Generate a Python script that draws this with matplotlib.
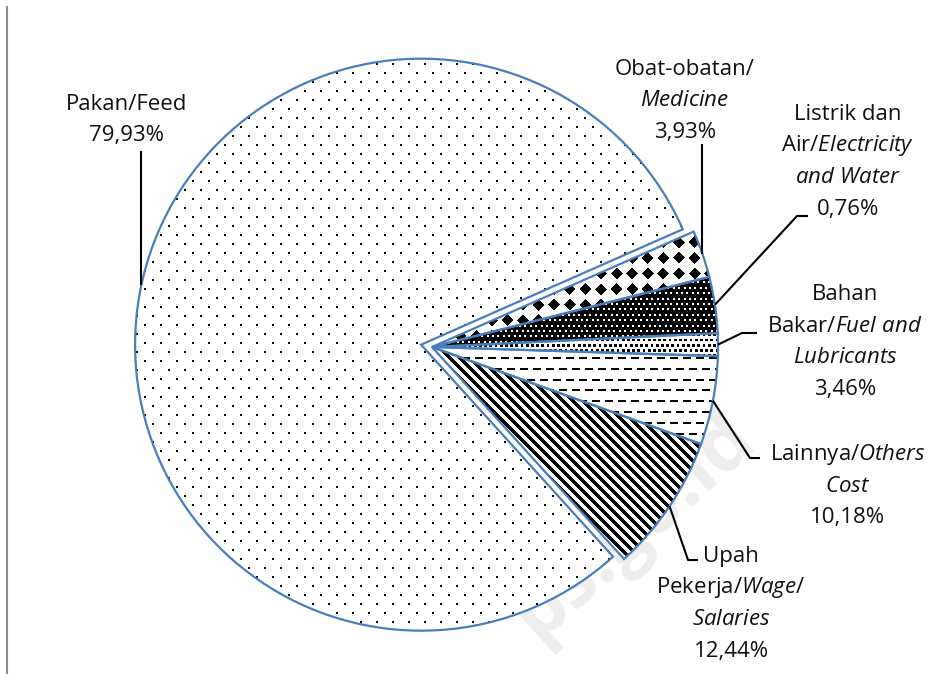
import numpy as np
import matplotlib
matplotlib.use("Agg")
import matplotlib.pyplot as plt
from matplotlib.lines import Line2D

plt.rcParams['font.family'] = ['Open Sans', 'DejaVu Sans']
plt.rcParams['mathtext.fontset'] = 'custom'
plt.rcParams['mathtext.rm'] = 'Open Sans'
plt.rcParams['mathtext.it'] = 'Open Sans:italic'

# slices in counter-clockwise order, starting with Feed
names = ['Feed', 'Wage', 'Others', 'Fuel', 'Electricity', 'Medicine']
shares = [80.1, 7.78, 5.0, 1.28, 3.17, 2.67]      # wedge sizes as drawn
pct_labels = ['79,93%', '12,44%', '10,18%', '3,46%', '0,76%', '3,93%']
label_lines = [
    ['Pakan/Feed'],
    ['Upah', r'Pekerja/$\mathit{Wage/}$', r'$\mathit{Salaries}$'],
    [r'Lainnya/$\mathit{Others}$', r'$\mathit{Cost}$'],
    ['Bahan', r'Bakar/$\mathit{Fuel\ and}$', r'$\mathit{Lubricants}$'],
    ['Listrik dan', r'Air/$\mathit{Electricity}$', r'$\mathit{and\ Water}$'],
    ['Obat-obatan/', r'$\mathit{Medicine}$'],
]

W, H = 944, 674
CX, CY, R = 432, 347, 286      # pie centre / radius in pixels


def px(x, y):
    return (x - CX) / R, (CY - y) / R


yy, xx = np.mgrid[0:H, 0:W].astype(float)


def tex_feed():
    a = ((xx % 16) < 2) & ((yy % 18) < 2)
    b = (((xx + 8) % 16) < 2) & (((yy + 9) % 18) < 2)
    return np.where(a | b, 0.0, 1.0)


def tex_diamond():
    dx = (xx % 15.6) - 7.8
    dy = (yy % 15.6) - 7.8
    return np.where(np.abs(dx) + np.abs(dy) <= 6.0, 0.0, 1.0)


def tex_dark_dots():
    row = np.floor(yy / 5.4)
    off = (row % 2) * 2.7
    w = (((xx + off) % 5.4) < 2) & ((yy % 5.4) < 2)
    return np.where(w, 1.0, 0.0)


def tex_small_squares():
    row = np.floor(yy / 5.2)
    off = (row % 2) * 2.6
    b = (((xx + off) % 5.2) < 2.8) & ((yy % 5.2) < 2.8)
    return np.where(b, 0.0, 1.0)


def tex_dashes():
    row = np.floor(yy / 10.8)
    off = (row % 2) * 6.5
    b = ((yy % 10.8) < 2) & (((xx + off) % 13) < 8)
    return np.where(b, 0.0, 1.0)


def tex_stripes():
    return np.where(((xx - yy) % 10) < 5, 0.0, 1.0)


textures = [tex_feed(), tex_stripes(), tex_dashes(), tex_small_squares(),
            tex_dark_dots(), tex_diamond()]

fig = plt.figure(figsize=(W / 100, H / 100), dpi=100)
ax = fig.add_axes([0, 0, 1, 1])

wedges, _ = ax.pie(shares, startangle=23.8, counterclock=True,
                   explode=[0.039, 0, 0, 0, 0, 0], radius=1,
                   wedgeprops=dict(facecolor='none', edgecolor='#4a7ebb',
                                   linewidth=1.6, zorder=3))

x0, y1 = px(0, 0)
x1, y0 = px(W, H)
for w, tex in zip(wedges, textures):
    im = ax.imshow(tex, cmap='gray', vmin=0, vmax=1, extent=(x0, x1, y0, y1),
                   origin='upper', interpolation='nearest', aspect='auto', zorder=2)
    im.set_clip_path(w)

ax.set_xlim(x0, x1)
ax.set_ylim(y0, y1)
ax.set_aspect('auto')
ax.axis('off')


def arc_pt(w):
    th = np.deg2rad((w.theta1 + w.theta2) / 2)
    return w.center[0] + w.r * np.cos(th), w.center[1] + w.r * np.sin(th)


# leader elbows (pixel coords), label block centre x and first baseline
elbows = [
    [('v', 151)],
    [(688, 560), (698, 560)],
    [(750, 458), (760, 458)],
    [(742, 333), (757, 333)],
    [(797, 216), (808, 216)],
    [('v', 144)],
]
label_pos = [(127, 110), (731, 562), (848, 460), (845, 300), (848, 120), (685, 75)]
line_gap = 31.5

for w, elb, pos, lines, pct in zip(wedges, elbows, label_pos, label_lines, pct_labels):
    sx, sy = arc_pt(w)
    xs, ys = [sx], [sy]
    for e in elb:
        if e[0] == 'v':
            xs.append(sx)
            ys.append(px(0, e[1])[1])
        else:
            ex, ey = px(*e)
            xs.append(ex)
            ys.append(ey)
    ax.plot(xs, ys, color='black', lw=1.5, zorder=4, solid_capstyle='butt')
    for i, t in enumerate(lines + [pct]):
        tx, ty = px(pos[0], pos[1] + i * line_gap)
        ax.text(tx, ty, t, ha='center', va='baseline', fontsize=16, color='#111111', zorder=5)

# faint watermark
wx, wy = px(634, 526)
ax.text(wx, wy, 'ps.go.id', rotation=42, fontsize=56, fontweight='bold',
        color='#eeeeee', ha='center', va='center', zorder=0)

fig.add_artist(Line2D([7 / W, 7 / W], [0, 1 - 7 / H], color='#8c8c8c', lw=1.5))

fig.savefig('out.png', dpi=100, facecolor='white')
